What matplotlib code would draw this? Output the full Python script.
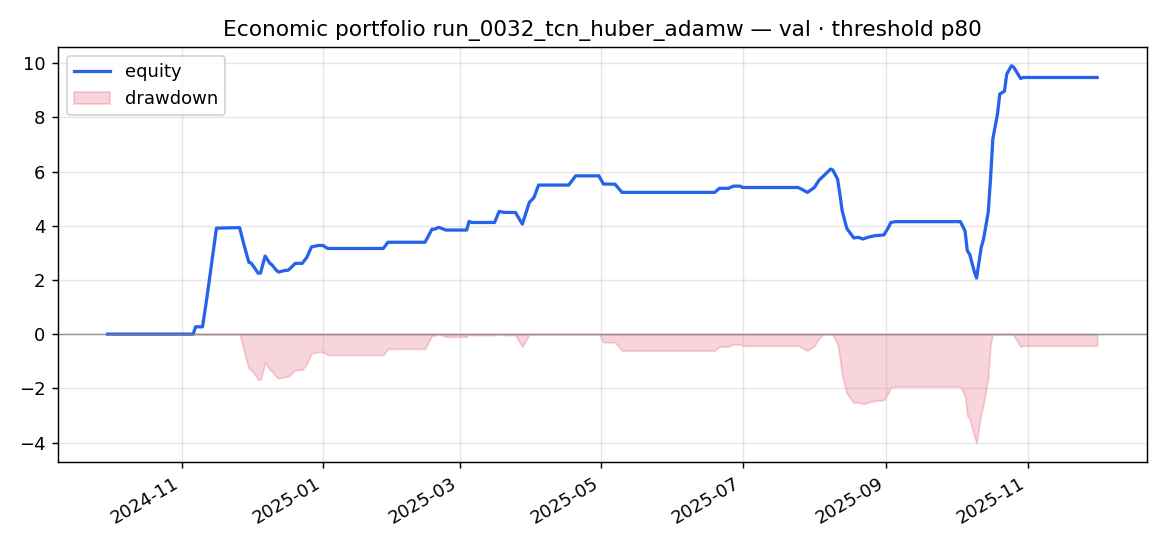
import numpy as np
import pandas as pd
import matplotlib
matplotlib.use("Agg")
import matplotlib.pyplot as plt
import matplotlib.dates as mdates

# Equity curve (date, cumulative equity)
dates = [
    "2024-09-30", "2024-11-06", "2024-11-07", "2024-11-10", "2024-11-12", "2024-11-16",
    "2024-11-26", "2024-11-28", "2024-11-30", "2024-12-01", "2024-12-04", "2024-12-05",
    "2024-12-07", "2024-12-09", "2024-12-10", "2024-12-12", "2024-12-13", "2024-12-15",
    "2024-12-17", "2024-12-20", "2024-12-23", "2024-12-25", "2024-12-27", "2024-12-30",
    "2025-01-01", "2025-01-03", "2025-01-27", "2025-01-29", "2025-02-14", "2025-02-17",
    "2025-02-18", "2025-02-20", "2025-02-23", "2025-03-04", "2025-03-05", "2025-03-06",
    "2025-03-16", "2025-03-18", "2025-03-20", "2025-03-25", "2025-03-28", "2025-03-31",
    "2025-04-02", "2025-04-04", "2025-04-17", "2025-04-20", "2025-04-30", "2025-05-02",
    "2025-05-07", "2025-05-10", "2025-06-19", "2025-06-21", "2025-06-25", "2025-06-27",
    "2025-06-30", "2025-07-01", "2025-07-25", "2025-07-26", "2025-07-29", "2025-08-01",
    "2025-08-03", "2025-08-05", "2025-08-08", "2025-08-09", "2025-08-11", "2025-08-12",
    "2025-08-13", "2025-08-15", "2025-08-18", "2025-08-20", "2025-08-22", "2025-08-24",
    "2025-08-27", "2025-08-31", "2025-09-02", "2025-09-03", "2025-09-05", "2025-10-03",
    "2025-10-05", "2025-10-06", "2025-10-07", "2025-10-09", "2025-10-10", "2025-10-12",
    "2025-10-13", "2025-10-15", "2025-10-16", "2025-10-17", "2025-10-19", "2025-10-20",
    "2025-10-22", "2025-10-23", "2025-10-25", "2025-10-26", "2025-10-29", "2025-10-30",
    "2025-12-01",
]
equity = [
    0.00, 0.00, 0.27, 0.27, 1.41, 3.91,
    3.93, 3.26, 2.65, 2.62, 2.25, 2.25,
    2.88, 2.62, 2.55, 2.34, 2.29, 2.34,
    2.36, 2.61, 2.61, 2.83, 3.22, 3.27,
    3.27, 3.16, 3.16, 3.39, 3.39, 3.87,
    3.87, 3.94, 3.84, 3.84, 4.16, 4.12,
    4.12, 4.53, 4.49, 4.49, 4.06, 4.86,
    5.04, 5.50, 5.50, 5.84, 5.84, 5.54,
    5.53, 5.23, 5.23, 5.38, 5.38, 5.46,
    5.46, 5.41, 5.41, 5.37, 5.23, 5.41,
    5.68, 5.84, 6.09, 6.05, 5.72, 5.17,
    4.55, 3.90, 3.55, 3.57, 3.51, 3.57,
    3.63, 3.66, 3.94, 4.12, 4.15, 4.15,
    3.81, 3.07, 2.95, 2.31, 2.07, 3.20,
    3.51, 4.49, 5.72, 7.20, 8.12, 8.86,
    8.96, 9.59, 9.90, 9.85, 9.43, 9.47,
    9.47,
]

x = pd.to_datetime(dates)
eq = np.array(equity)
# drawdown relative to running peak
dd = eq - np.maximum.accumulate(eq)

fig, ax = plt.subplots(figsize=(9, 4.2), dpi=130)
ax.plot(x, eq, color="#2563eb", lw=1.8, label="equity")
ax.fill_between(x, dd, 0, color="crimson", alpha=0.18, label="drawdown")
ax.axhline(0, color="grey", lw=0.8, alpha=0.8)

ax.set_title("Economic portfolio run_0032_tcn_huber_adamw — val · threshold p80")
ax.grid(True, alpha=0.3)
ax.legend(loc="upper left")
ax.xaxis.set_major_locator(mdates.MonthLocator(bymonth=[1, 3, 5, 7, 9, 11]))
ax.xaxis.set_major_formatter(mdates.DateFormatter("%Y-%m"))
fig.autofmt_xdate()

fig.subplots_adjust(left=0.0496, right=0.980, top=0.914, bottom=0.154)
fig.savefig("out.png")
